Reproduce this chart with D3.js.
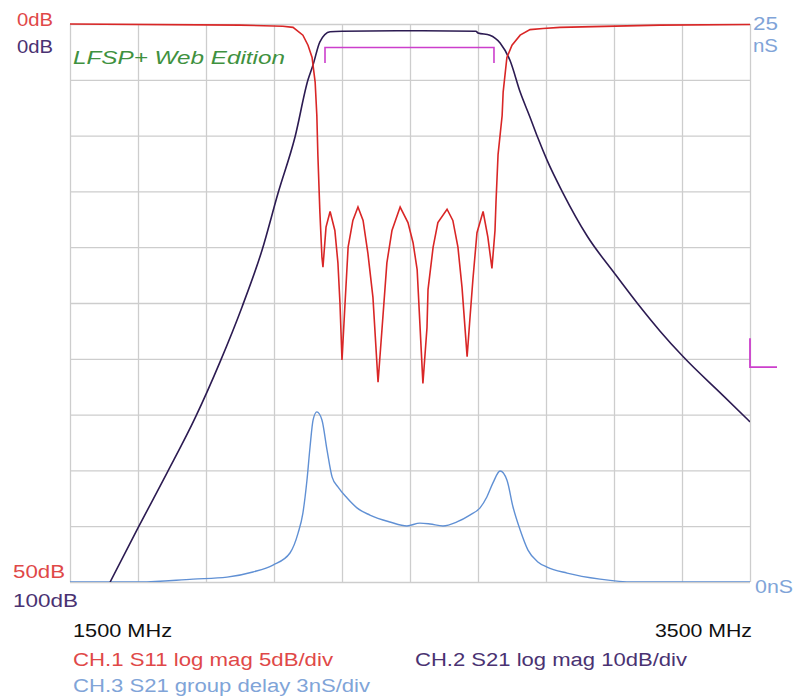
<!DOCTYPE html>
<html>
<head>
<meta charset="utf-8">
<script src="https://cdn.jsdelivr.net/npm/d3@7"></script>
<style>
  html, body { margin: 0; padding: 0; background: #ffffff; }
  svg { display: block; }
  text { font-family: "Liberation Sans", Arial, sans-serif; }
</style>
</head>
<body>
<svg id="chart" width="799" height="698"></svg>
<script>
// ---------------- DATA ----------------
const freqStart = 1500, freqStop = 3500, freqStep = 200;   // MHz
const s11Range = [0, 50];     // dB, 5 dB/div
const s21Range = [0, 100];    // dB, 10 dB/div
const gdRange  = [0, 25];     // nS

// CH.1 S11 log mag (MHz, dB loss)
const s11Freq = [1500,2000,2126,2156,2185,2200,2212,2221,2226,2229,2235,2241,2244,2253,2265,2279,2288,2294,2300,2309,2318,2332,2347,2362,2376,2391,2406,2418,2432,2447,2471,2494,2509,2521,2529,2538,2550,2553,2568,2582,2609,2626,2641,2653,2668,2676,2685,2697,2715,2729,2741,2750,2753,2759,2771,2774,2785,2800,2824,2853,2891,2941,3235,3500];
const s11Val  = [0.0,0.1,0.2,0.3,1.0,1.9,3.0,5.2,8.2,11.7,16.9,20.9,21.8,18.2,16.8,18.5,21.4,25.0,30.1,25.0,20.0,17.6,16.4,17.6,20.5,24.5,32.1,27.2,21.4,18.5,16.4,17.8,19.6,22.0,26.8,32.2,27.2,23.8,20.0,17.8,16.6,17.6,20.0,23.6,29.8,26.5,22.9,18.7,16.8,19.1,21.9,18.5,15.9,11.7,8.2,6.1,3.0,1.9,1.0,0.5,0.4,0.3,0.1,0.05];

// CH.2 S21 log mag (MHz, dB loss)
const s21Freq = [1618,1700,1785,1868,1941,2006,2065,2112,2162,2200,2215,2235,2265,2300,2500,2694,2700,2735,2765,2794,2824,2853,2876,2903,2950,3021,3103,3168,3235,3303,3421,3500];
const s21Val  = [100,90.3,80.5,70.6,60.6,50.7,40.5,30.3,20.2,10.0,7.3,3.2,1.4,1.3,1.2,1.3,1.6,2.0,3.4,6.5,12.2,16.7,20.4,24.4,30.3,38.0,44.8,50.0,55.0,59.6,66.6,71.3];

// CH.3 S21 group delay (MHz, nS)
const gdFreq = [1500,1706,1862,1962,2038,2097,2147,2171,2185,2197,2206,2215,2226,2241,2256,2271,2288,2315,2344,2382,2441,2491,2529,2559,2597,2638,2676,2706,2726,2744,2765,2785,2803,2824,2847,2876,2903,2962,3059,3156,3500];
const gdVal  = [0.0,0.0,0.13,0.22,0.45,0.76,1.30,2.20,3.09,4.57,6.05,7.26,7.62,7.26,5.91,4.70,4.26,3.76,3.32,3.00,2.69,2.51,2.64,2.60,2.51,2.69,3.00,3.32,3.81,4.44,4.97,4.57,3.36,2.33,1.43,0.90,0.67,0.40,0.13,0.0,0.0];

// Markers (S21 scale): passband bracket and reference level
const bracketFreq = [2250, 2747];
const bracketLevel = [4.2, 7.0];     // dB (top, tick end)
const refMarkerFreq = 3500;
const refMarkerLevel = [56.3, 61.5]; // dB

// Labels
const leftTopLabels = ["0dB", "0dB"];
const leftBottomLabels = ["50dB", "100dB"];
const rightLabels = ["25", "nS", "0nS"];
const freqLabels = ["1500 MHz", "3500 MHz"];
const legendLabels = ["CH.1 S11 log mag 5dB/div", "CH.2 S21 log mag 10dB/div", "CH.3 S21 group delay 3nS/div"];
const watermark = "LFSP+ Web Edition";

// ---------------- LAYOUT ----------------
const L = 70, R = 750, T = 24, B = 582;
const colRed = "#d92626", colRedTxt = "#e04848";
const colPur = "#2c1b52", colPurTxt = "#4a3272";
const colBlu = "#6090d4", colBluTxt = "#80a4d8";
const colMag = "#cc3fcc", colGrid = "#cdcdcd", colGreen = "#3f9140";

const svg = d3.select("#chart");
const x = d3.scaleLinear().domain([freqStart, freqStop]).range([L, R]);
const y11 = d3.scaleLinear().domain(s11Range).range([T, B]);
const y21 = d3.scaleLinear().domain(s21Range).range([T, B]);
const yGD = d3.scaleLinear().domain(gdRange).range([B, T]);

svg.append("defs").append("clipPath").attr("id", "plotclip")
  .append("rect").attr("x", L).attr("y", T - 2).attr("width", R - L).attr("height", B - T + 2);

// grid via axes
const xTicks = d3.range(freqStart, freqStop + 1, freqStep);
const yTicks = d3.range(s11Range[0], s11Range[1] + 0.01, 5);
const gx = svg.append("g").attr("transform", `translate(0,${B})`)
  .call(d3.axisBottom(x).tickValues(xTicks).tickSize(-(B - T)).tickFormat(""));
const gy = svg.append("g").attr("transform", `translate(${L},0)`)
  .call(d3.axisLeft(y11).tickValues(yTicks).tickSize(-(R - L)).tickFormat(""));
[gx, gy].forEach(g => {
  g.select(".domain").remove();
  g.selectAll("line").attr("stroke", colGrid).attr("stroke-width", 1.3);
});

// watermark
svg.append("text").attr("x", 73).attr("y", 64).attr("fill", colGreen)
  .attr("font-size", 18).attr("font-style", "italic")
  .attr("textLength", 212).attr("lengthAdjust", "spacingAndGlyphs").text(watermark);

const plot = svg.append("g").attr("clip-path", "url(#plotclip)");

// group delay
plot.append("path").datum(d3.zip(gdFreq, gdVal))
  .attr("fill", "none").attr("stroke", colBlu).attr("stroke-width", 1.4)
  .attr("d", d3.line().curve(d3.curveMonotoneX).x(d => x(d[0])).y(d => yGD(d[1])));

// S21
plot.append("path").datum(d3.zip(s21Freq, s21Val))
  .attr("fill", "none").attr("stroke", colPur).attr("stroke-width", 1.6)
  .attr("d", d3.line().curve(d3.curveMonotoneX).x(d => x(d[0])).y(d => y21(d[1])));

// S11
plot.append("path").datum(d3.zip(s11Freq, s11Val))
  .attr("fill", "none").attr("stroke", colRed).attr("stroke-width", 1.6)
  .attr("d", d3.line().x(d => x(d[0])).y(d => y11(d[1])));

// bracket marker
const bx0 = x(bracketFreq[0]), bx1 = x(bracketFreq[1]);
const by0 = y21(bracketLevel[0]), by1 = y21(bracketLevel[1]);
svg.append("path").attr("fill", "none").attr("stroke", colMag).attr("stroke-width", 1.6)
  .attr("d", `M${bx0},${by1}V${by0}H${bx1}V${by1}`);

// reference marker
const rx = x(refMarkerFreq);
svg.append("path").attr("fill", "none").attr("stroke", colMag).attr("stroke-width", 1.8)
  .attr("d", `M${rx},${y21(refMarkerLevel[0])}V${y21(refMarkerLevel[1])}H${rx + 27}`);

// texts
function txt(s, xx, yy, col, w, anchor) {
  const t = svg.append("text").attr("x", xx).attr("y", yy).attr("fill", col)
    .attr("font-size", 18).text(s);
  if (w) t.attr("textLength", w).attr("lengthAdjust", "spacingAndGlyphs");
  if (anchor) t.attr("text-anchor", anchor);
  return t;
}
txt(leftTopLabels[0], 17, 26, colRedTxt, 36);
txt(leftTopLabels[1], 17, 53, colPurTxt, 36);
txt(leftBottomLabels[0], 13, 578, colRedTxt, 52);
txt(leftBottomLabels[1], 13, 607, colPurTxt, 65);
txt(rightLabels[0], 753, 30, colBluTxt, 25);
txt(rightLabels[1], 753, 52, colBluTxt, 25);
txt(rightLabels[2], 755, 593, colBluTxt, 38);
txt(freqLabels[0], 73, 637, "#111111", 99);
txt(freqLabels[1], 655, 637, "#111111", 97);
txt(legendLabels[0], 73, 666, colRedTxt, 260);
txt(legendLabels[1], 415, 666, colPurTxt, 272);
txt(legendLabels[2], 73, 692, colBluTxt, 297);
</script>
</body>
</html>
